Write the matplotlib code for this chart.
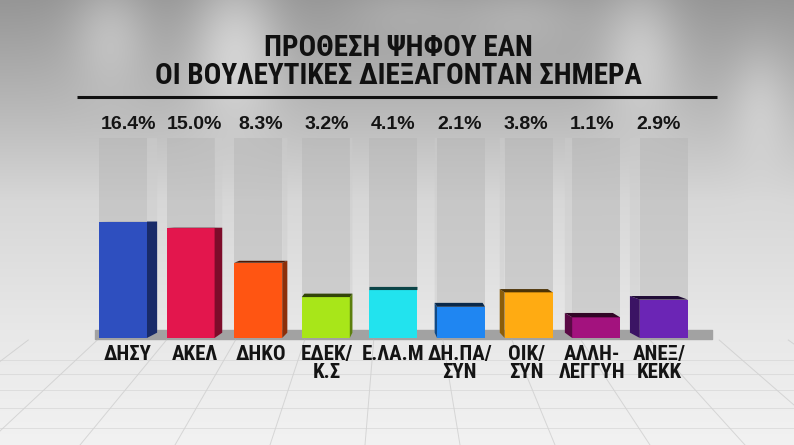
"""Πρόθεση ψήφου - τηλεοπτικό γράφημα με 3D στήλες"""

import matplotlib
matplotlib.use("Agg")
import matplotlib.pyplot as plt
import matplotlib.colors as mcolors
from matplotlib.patches import Polygon
from matplotlib.transforms import IdentityTransform
import numpy as np

parties = ["ΔΗΣΥ", "ΑΚΕΛ", "ΔΗΚΟ", "ΕΔΕΚ/\nΚ.Σ", "Ε.ΛΑ.Μ", "ΔΗ.ΠΑ/\nΣΥΝ",
           "ΟΙΚ/\nΣΥΝ", "ΑΛΛΗ-\nΛΕΓΓΥΗ", "ΑΝΕΞ/\nΚΕΚΚ"]
votes = [16.4, 15.0, 8.3, 3.2, 4.1, 2.1, 3.8, 1.1, 2.9]
colors = ["#2e4fbf", "#e3164d", "#ff5512", "#a8e619", "#22e3ee",
          "#1f86f2", "#ffab12", "#a3127e", "#6b25b5"]
title_lines = ["ΠΡΟΘΕΣΗ ΨΗΦΟΥ ΕΑΝ", "ΟΙ ΒΟΥΛΕΥΤΙΚΕΣ ΔΙΕΞΑΓΟΝΤΑΝ ΣΗΜΕΡΑ"]

W, H = 794, 445
TRACK_TOP = 38.2      # τιμή που αντιστοιχεί στην κορυφή των γκρι στηλών
POW = 0.64            # μη γραμμική κλίμακα του γραφήματος
NARROW = ["Roboto Condensed", "Liberation Sans", "DejaVu Sans"]


def shade(c, k):
    r, g, b = mcolors.to_rgb(c)
    return (r * k, g * k, b * k)


def background():
    yy, xx = np.mgrid[0:H, 0:W].astype(float)
    img = np.interp(yy, [0, 110, 200, 330, 445], [150, 185, 215, 232, 242])
    for cx, cy, sx, sy, amp in [(235, 40, 45, 75, 45), (110, 30, 40, 55, 30),
                                (640, 45, 40, 70, 35), (520, 15, 70, 35, 20),
                                (400, 10, 60, 30, 15), (760, 100, 30, 60, 20)]:
        img += amp * np.exp(-((xx - cx) / sx) ** 2 - ((yy - cy) / sy) ** 2)
    img = np.clip(img, 0, 255) / 255
    return np.dstack([img, img, img])


fig = plt.figure(figsize=(W / 100, H / 100), dpi=100)

# φόντο σε συντεταγμένες pixel (y προς τα κάτω)
bg = fig.add_axes([0, 0, 1, 1], zorder=0)
bg.imshow(background(), extent=(0, W, H, 0), aspect="auto")
bg.set_xlim(0, W)
bg.set_ylim(H, 0)
bg.axis("off")

vp = (397, 60)
for xb in np.arange(-300, W + 400, 95):
    t = (340 - vp[1]) / (H - vp[1])
    bg.plot([vp[0] + (xb - vp[0]) * t, xb], [340, H], color="#c0c0c0", lw=0.7, alpha=0.55)
for yh in [360, 374, 390, 408, 428]:
    bg.plot([0, W], [yh, yh], color="#d2d2d2", lw=0.7, alpha=0.6)
bg.fill_between([95, 712], 330, 339, color="#a2a2a2")

bg.text(398, 48, title_lines[0], ha="center", va="center", fontsize=21,
        fontweight="bold", family=NARROW, color="#111111")
bg.text(398, 76, title_lines[1], ha="center", va="center", fontsize=21,
        fontweight="bold", family=NARROW, color="#111111")
bg.plot([77, 717], [97, 97], color="#111111", lw=2.2, solid_capstyle="butt")

# κύριος άξονας με τις στήλες
left_px, right_px, base_px, top_px = 80, 715, 338, 138
ax = fig.add_axes([left_px / W, 1 - base_px / H, (right_px - left_px) / W,
                   (base_px - top_px) / H], zorder=2)
ax.patch.set_alpha(0)
x = np.arange(len(votes))
x0_px, step_px = 123, 67.6
ax.set_xlim((left_px - x0_px) / step_px, (right_px - x0_px) / step_px)
ax.set_yscale("function", functions=(lambda v: np.sign(v) * np.abs(v) ** POW,
                                      lambda v: np.sign(v) * np.abs(v) ** (1 / POW)))
ax.set_ylim(0, TRACK_TOP)
ax.axis("off")

bw = 0.71
ax.bar(x, [TRACK_TOP] * len(x), bw, color=(0.71, 0.71, 0.71, 0.47), zorder=1)
ax.bar(x, votes, bw, color=colors, zorder=3)


def px(xv, yv):
    return ax.transData.transform((xv, yv))


def depth(y_disp):
    return max(0.0, (H - y_disp) - 220) * 0.045


for i, v in enumerate(votes):
    (xl, yb) = px(i - bw / 2, 0)
    (xr, yt) = px(i + bw / 2, v)
    (_, ytr) = px(i, TRACK_TOP)
    xc = (xl + xr) / 2
    s = (397 - xc) * 0.037
    db, dt, dtr = depth(yb), depth(yt), depth(ytr)
    edge = xr if s > 0 else xl
    if abs(s) > 0.5:
        # γκρι πλευρά
        ax.add_patch(Polygon([(edge, yb), (edge + s, yb + db), (edge + s, ytr + dtr), (edge, ytr)],
                             closed=True, transform=IdentityTransform(), clip_on=False,
                             facecolor=(0.80, 0.80, 0.80, 0.45), edgecolor="none", zorder=1))
        ax.add_patch(Polygon([(edge, yb), (edge + s, yb + db), (edge + s, yt + dt), (edge, yt)],
                             closed=True, transform=IdentityTransform(), clip_on=False,
                             facecolor=shade(colors[i], 0.55), edgecolor="none", zorder=3))
    # πάνω έδρα
    ax.add_patch(Polygon([(xl, yt), (xr, yt), (xr + s, yt + dt), (xl + s, yt + dt)],
                         closed=True, transform=IdentityTransform(), clip_on=False,
                         facecolor=shade(colors[i], 0.3), edgecolor="none", zorder=4))
    ax.annotate(f"{v:.1f}%", xy=(i, TRACK_TOP), xytext=(s / 2 * 0.72, 9.5),
                textcoords="offset points", ha="center", va="center",
                fontsize=14, fontweight="bold", family=["Liberation Sans", "DejaVu Sans"],
                color="#141414", annotation_clip=False)
    ax.annotate(parties[i], xy=(i, 0), xytext=(s / 2 * 0.72, -5),
                textcoords="offset points", ha="center", va="top", linespacing=0.95,
                fontsize=15, fontweight="bold", family=NARROW, color="#141414",
                annotation_clip=False)

fig.savefig("out.png", dpi=100)
plt.close(fig)
